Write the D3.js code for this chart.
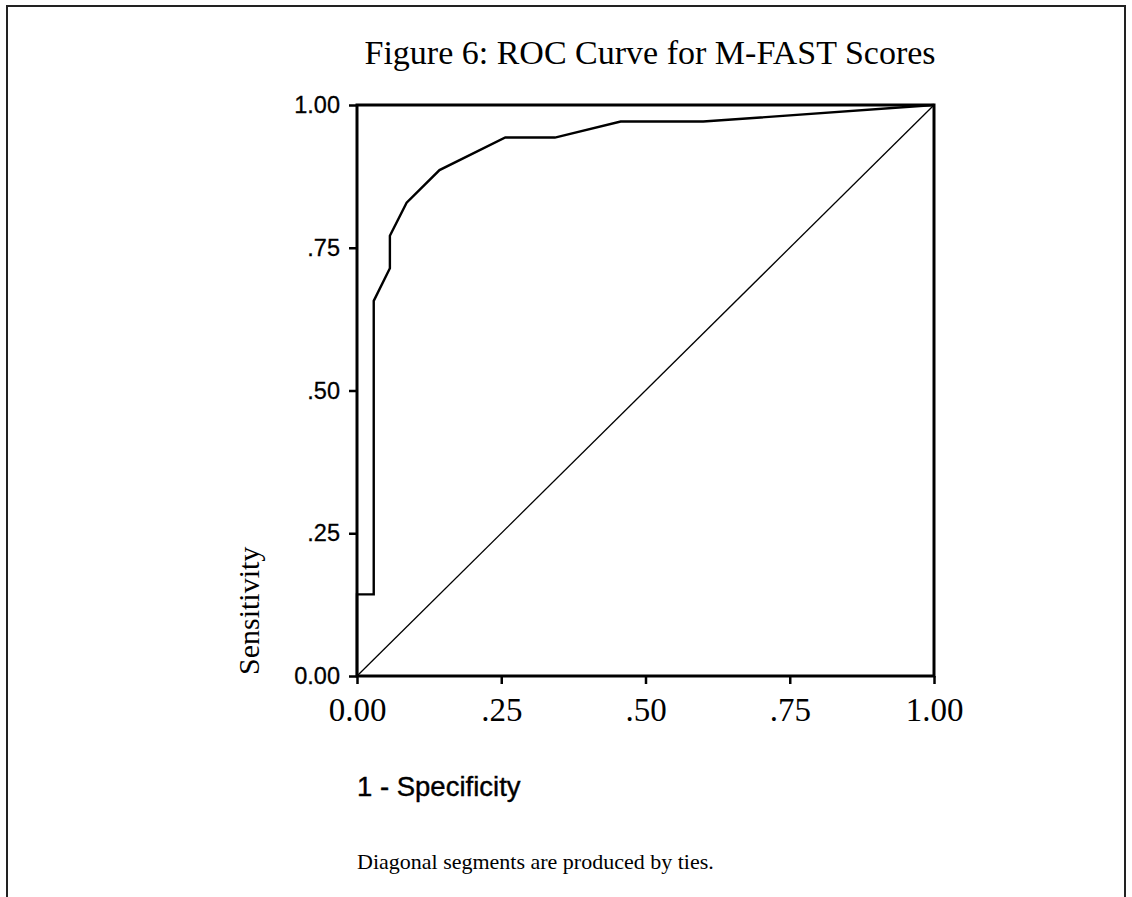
<!DOCTYPE html>
<html>
<head>
<meta charset="utf-8">
<script src="https://cdn.jsdelivr.net/npm/d3@7"></script>
<style>
    html, body { margin: 0; padding: 0; background: #fff; }
    svg { display: block; }
</style>
</head>
<body>
<div id="rocchart"></div>
<script>
    "use strict";

    // ROC points (1 - specificity, sensitivity)
    var falsePositive = [0, 0, 0.029, 0.029, 0.057, 0.057, 0.086, 0.143, 0.257, 0.343, 0.457, 0.600, 1.000];
    var sensitivity = [0, 0.143, 0.143, 0.657, 0.714, 0.771, 0.829, 0.886, 0.943, 0.943, 0.971, 0.971, 1.000];
    var tickValues = [0, 0.25, 0.5, 0.75, 1];
    var tickLabels = ["0.00", ".25", ".50", ".75", "1.00"];
    var titleText = "Figure 6: ROC Curve for M-FAST Scores";
    var xTitle = "1 - Specificity";
    var yTitle = "Sensitivity";
    var footText = "Diagonal segments are produced by ties.";

    var width = 1132, height = 897;
    var plot = { left: 357, top: 105, right: 934, bottom: 676 };

    var svg = d3.select("#rocchart").append("svg")
        .attr("width", width)
        .attr("height", height);

    // outer page frame (open at the bottom)
    svg.append("path")
        .attr("d", "M7," + height + "V6H1125V" + height)
        .attr("fill", "none")
        .attr("stroke", "#222")
        .attr("stroke-width", 2);

    var x = d3.scaleLinear().domain([0, 1]).range([plot.left, plot.right]);
    var y = d3.scaleLinear().domain([0, 1]).range([plot.bottom, plot.top]);

    var fmt = function (d) { return tickLabels[tickValues.indexOf(d)]; };

    var yAxis = svg.append("g")
        .attr("transform", "translate(" + plot.left + ",0)")
        .call(d3.axisLeft(y).tickValues(tickValues).tickFormat(fmt).tickSize(8).tickSizeOuter(0).tickPadding(9));
    yAxis.select(".domain").remove();
    yAxis.selectAll("line").attr("stroke", "#000").attr("stroke-width", 2.5);
    yAxis.selectAll("text")
        .attr("fill", "#000")
        .attr("stroke", "#000")
        .attr("stroke-width", 0.3)
        .style("font-family", "'Liberation Sans', Arial, sans-serif")
        .style("font-size", "23.5px");

    var xAxis = svg.append("g")
        .attr("transform", "translate(0," + plot.bottom + ")")
        .call(d3.axisBottom(x).tickValues(tickValues).tickFormat(fmt).tickSize(8).tickSizeOuter(0).tickPadding(14));
    xAxis.select(".domain").remove();
    xAxis.selectAll("line").attr("stroke", "#000").attr("stroke-width", 2.5);
    xAxis.selectAll("text")
        .attr("fill", "#000")
        .style("font-family", "'Liberation Serif', 'Times New Roman', serif")
        .style("font-size", "33px");

    // plot box
    svg.append("rect")
        .attr("x", x(0))
        .attr("y", y(1))
        .attr("width", x(1) - x(0))
        .attr("height", y(0) - y(1))
        .attr("fill", "none")
        .attr("stroke", "#000")
        .attr("stroke-width", 3);

    // chance diagonal
    svg.append("line")
        .attr("x1", x(0)).attr("y1", y(0))
        .attr("x2", x(1)).attr("y2", y(1))
        .attr("stroke", "#000")
        .attr("stroke-width", 1.3);

    var line = d3.line()
        .x(function (d, i) { return x(falsePositive[i]); })
        .y(function (d) { return y(d); });

    svg.append("path")
        .datum(sensitivity)
        .attr("d", line)
        .attr("fill", "none")
        .attr("stroke", "#000")
        .attr("stroke-width", 2.4)
        .attr("stroke-linejoin", "miter");

    svg.append("text")
        .attr("x", 650)
        .attr("y", 64)
        .attr("text-anchor", "middle")
        .style("font-family", "'Liberation Serif', 'Times New Roman', serif")
        .style("font-size", "34px")
        .text(titleText);

    svg.append("text")
        .attr("transform", "translate(259,675) rotate(-90)")
        .style("font-family", "'Liberation Serif', 'Times New Roman', serif")
        .style("font-size", "30px")
        .text(yTitle);

    svg.append("text")
        .attr("x", 357)
        .attr("y", 796)
        .style("font-family", "'Liberation Sans', Arial, sans-serif")
        .style("font-size", "27.5px")
        .attr("stroke", "#000")
        .attr("stroke-width", 0.4)
        .text(xTitle);

    svg.append("text")
        .attr("x", 357)
        .attr("y", 869)
        .style("font-family", "'Liberation Serif', 'Times New Roman', serif")
        .style("font-size", "22px")
        .text(footText);
</script>
</body>
</html>
